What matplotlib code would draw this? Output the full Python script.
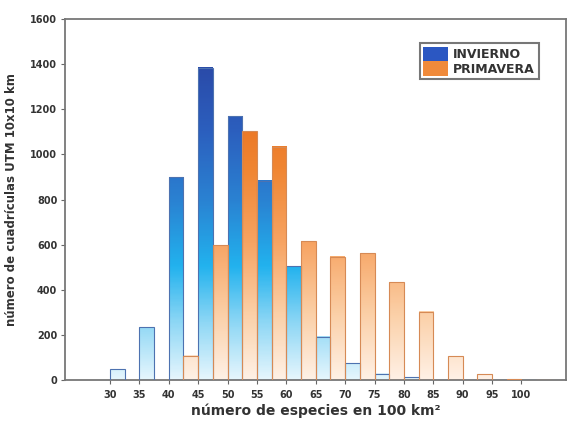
import numpy as np
import matplotlib
matplotlib.use("Agg")
import matplotlib.pyplot as plt
from matplotlib.colors import LinearSegmentedColormap, Normalize
from matplotlib.patches import Patch

plt.rcParams['font.family'] = ['DejaVu Sans']
plt.rcParams['font.weight'] = 'bold'

# datos
categorias = [30, 35, 40, 45, 50, 55, 60, 65, 70, 75, 80, 85, 90, 95, 100]
invierno = [48, 234, 900, 1385, 1170, 883, 505, 192, 75, 27, 12, 0, 0, 0, 0]
primavera = [0, 0, 108, 598, 1104, 1034, 616, 547, 562, 433, 303, 106, 26, 4, 0]
series = ['INVIERNO', 'PRIMAVERA']
yticks = [0, 200, 400, 600, 800, 1000, 1200, 1400, 1600]

# degradados (color segun altura)
cmap_inv = LinearSegmentedColormap.from_list('inv', [
    (0.0, '#e6f6fd'), (0.18, '#8ed7f5'), (0.36, '#22b2ee'),
    (0.57, '#2a82d2'), (0.79, '#2c5fbe'), (1.0, '#2a4aa8')])
cmap_pri = LinearSegmentedColormap.from_list('pri', [
    (0.0, '#fff1e6'), (0.27, '#fbcfa6'), (0.55, '#f7a463'),
    (0.85, '#f08633'), (1.0, '#ec7a28')])
norm_inv = Normalize(0, 1400)
norm_pri = Normalize(0, 1100)

fig = plt.figure(figsize=(5.67, 4.24), dpi=100)
ax = fig.add_axes([0.1146, 0.1038, 0.8834, 0.851])

x = np.arange(len(categorias))
b_inv = ax.bar(x, invierno, width=0.5, align='edge', facecolor='none',
               edgecolor='#4d72b0', linewidth=0.8, zorder=3)
b_pri = ax.bar(x + 0.5, primavera, width=0.5, align='edge', facecolor='none',
               edgecolor='#d68a55', linewidth=0.8, zorder=3)

for bars, cmap, norm in [(b_inv, cmap_inv, norm_inv), (b_pri, cmap_pri, norm_pri)]:
    for r in bars:
        h = r.get_height()
        if h <= 0:
            continue
        x0 = r.get_x()
        grad = np.linspace(0, h, 200)[:, None]
        ax.imshow(grad, extent=[x0, x0 + r.get_width(), 0, h], origin='lower',
                  cmap=cmap, norm=norm, aspect='auto', zorder=2)

ax.set_xlim(-1.53, 15.51)
ax.set_ylim(0, 1600)
ax.set_xticks(x)
ax.set_xticklabels([str(c) for c in categorias], fontsize=7, fontweight='bold', color='#333333')
ax.set_yticks(yticks)
ax.set_yticklabels([str(v) for v in yticks], fontsize=7, fontweight='bold', color='#333333')
ax.tick_params(axis='both', direction='out', length=3, width=0.8, color='#666666', pad=2.5)
ax.tick_params(axis='x', pad=4)

for s in ax.spines.values():
    s.set_color('#777777')
    s.set_linewidth(1.3)

ax.set_xlabel('número de especies en 100 km²', fontsize=10, fontweight='bold',
              color='#333333', labelpad=3)
ax.set_ylabel('número de cuadrículas UTM 10x10 km', fontsize=8.5, fontweight='bold',
              color='#333333', labelpad=9)

handles = [Patch(facecolor='#2b57c2', edgecolor='none'),
           Patch(facecolor='#f08a3a', edgecolor='none')]
leg = ax.legend(handles, series, loc='upper right', bbox_to_anchor=(0.946, 0.934),
                fancybox=False, framealpha=1, edgecolor='#777777', fontsize=9,
                handlelength=2.0, handleheight=1.4, handletextpad=0.4,
                labelspacing=0.0, borderpad=0.3, borderaxespad=0)
leg.get_frame().set_linewidth(1.5)
for t in leg.get_texts():
    t.set_fontweight('bold')
    t.set_color('#333333')

fig.savefig('out.png', dpi=100, facecolor='white')
